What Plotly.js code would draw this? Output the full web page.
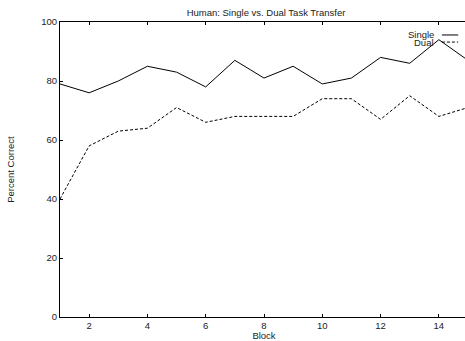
<!DOCTYPE html>
<html><head><meta charset="utf-8">
<script src="https://cdn.plot.ly/plotly-3.0.1.min.js"></script>
<style>html,body{margin:0;padding:0;overflow:hidden;background:#fff;width:465px;height:341px}</style>
</head><body><div id="chart" style="width:470px;height:341px"></div>
<script>
const blocks = [1,2,3,4,5,6,7,8,9,10,11,12,13,14,15];
const singleVals = [79,76,80,85,83,78,87,81,85,79,81,88,86,94,87];
const dualVals = [40,58,63,64,71,66,68,68,68,74,74,67,75,68,71];
const xTicks = [2,4,6,8,10,12,14];
const yTicks = [0,20,40,60,80,100];
const F = 'Liberation Sans, Arial, Helvetica, sans-serif';

const traces = [
  {x: blocks, y: singleVals, mode: 'lines', name: 'Single', line: {color: '#000', width: 1}},
  {x: blocks, y: dualVals, mode: 'lines', name: 'Dual', line: {color: '#000', width: 1, dash: '3px,2px'}}
];
const layout = {
  width: 470, height: 341,
  margin: {l: 60, r: 2, t: 22, b: 24},
  paper_bgcolor: '#fff', plot_bgcolor: '#fff',
  showlegend: false,
  font: {family: F, size: 9.5, color: '#222'},
  title: {text: 'Human: Single vs. Dual Task Transfer', x: 0.566, xanchor: 'center', y: 0.962, yanchor: 'middle', font: {family: F, size: 9.5, color: '#222'}},
  xaxis: {range: [1, 15], tickvals: xTicks, ticks: 'inside', ticklen: 3, tickcolor: '#000', showline: true, linecolor: '#000', linewidth: 1, mirror: 'ticks', showgrid: false, zeroline: false, tickfont: {size: 9.5}, title: {text: 'Block', standoff: 0, font: {size: 9.5}}},
  yaxis: {range: [0, 100], tickvals: yTicks, ticks: 'inside', ticklen: 3, tickcolor: '#000', showline: true, linecolor: '#000', linewidth: 1, mirror: 'ticks', showgrid: false, zeroline: false, tickfont: {size: 9.5}, title: {text: 'Percent Correct', standoff: 24, font: {size: 9.5}}},
  annotations: [
    {text: 'Single', xref: 'paper', yref: 'paper', x: 0.922, y: 0.958, xanchor: 'right', yanchor: 'middle', showarrow: false, font: {size: 9.5, color: '#222'}},
    {text: 'Dual', xref: 'paper', yref: 'paper', x: 0.922, y: 0.931, xanchor: 'right', yanchor: 'middle', showarrow: false, font: {size: 9.5, color: '#222'}}
  ],
  shapes: [
    {type: 'line', xref: 'paper', yref: 'paper', x0: 0.936, x1: 0.976, y0: 0.956, y1: 0.956, line: {color: '#000', width: 1}},
    {type: 'line', xref: 'paper', yref: 'paper', x0: 0.936, x1: 0.976, y0: 0.932, y1: 0.932, line: {color: '#000', width: 1, dash: '3px,2px'}}
  ]
};
Plotly.newPlot('chart', traces, layout, {displayModeBar: false, staticPlot: true});
</script></body></html>
